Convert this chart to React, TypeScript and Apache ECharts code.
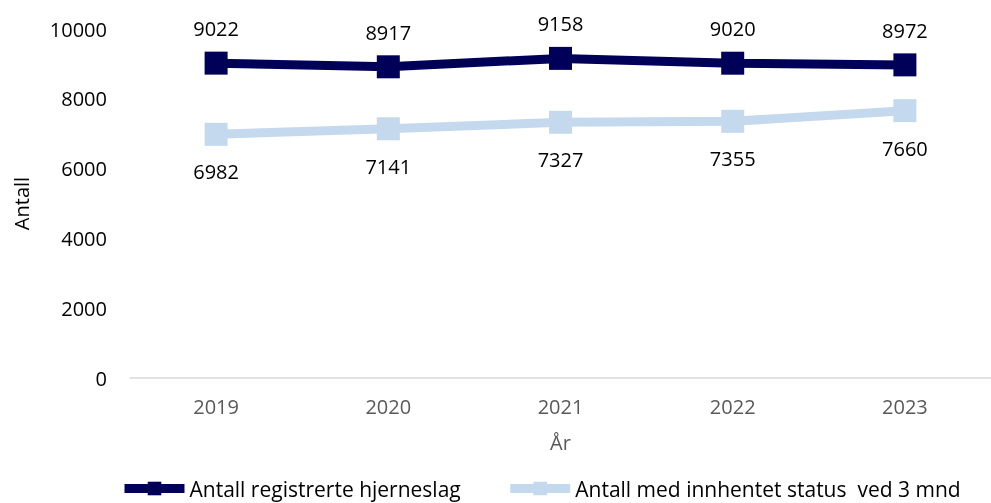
import React, { useEffect, useRef } from "react";
import * as echarts from "echarts";

const years = ["2019", "2020", "2021", "2022", "2023"];
const registrerte = [9022, 8917, 9158, 9020, 8972];
const innhentet = [6982, 7141, 7327, 7355, 7660];
const yTicks = { min: 0, max: 10000, interval: 2000 };

const FONT = "'Open Sans', sans-serif";

export default function App() {
  const ref = useRef<HTMLDivElement>(null);
  useEffect(() => {
    if (!ref.current) return;
    const chart = echarts.init(ref.current, undefined, { renderer: "svg" });
    chart.setOption({
      animation: false,
      textStyle: { fontFamily: FONT },
      grid: { left: 130, top: 29, bottom: 125, right: -6 },
      legend: {
        top: 473,
        left: 115,
        padding: 5,
        itemWidth: 60,
        itemHeight: 17,
        itemGap: 45,
        textStyle: { fontFamily: FONT, fontSize: 21, color: "#000" },
        lineStyle: { width: 9 },
        data: ["Antall registrerte hjerneslag", "Antall med innhentet status  ved 3 mnd"],
      },
      xAxis: {
        type: "category",
        data: years,
        boundaryGap: true,
        name: "År",
        nameLocation: "middle",
        nameGap: 54,
        nameTextStyle: { fontFamily: FONT, fontSize: 20, color: "#595959" },
        axisLine: { lineStyle: { color: "#d9d9d9", width: 1.5 } },
        axisTick: { show: false },
        axisLabel: { fontFamily: FONT, fontSize: 20, color: "#595959", margin: 18 },
      },
      yAxis: {
        type: "value",
        min: yTicks.min,
        max: yTicks.max,
        interval: yTicks.interval,
        name: "Antall",
        nameLocation: "middle",
        nameGap: 99,
        nameTextStyle: { fontFamily: FONT, fontSize: 20, color: "#000" },
        axisLine: { show: false },
        axisTick: { show: false },
        splitLine: { show: false },
        axisLabel: {
          fontFamily: FONT,
          fontSize: 20,
          color: "#000",
          margin: 23,
          formatter: (v: number) => String(v),
        },
      },
      series: [
        {
          name: "Antall registrerte hjerneslag",
          type: "line",
          data: registrerte,
          symbol: "rect",
          symbolSize: 23,
          lineStyle: { color: "#000058", width: 9 },
          itemStyle: { color: "#000058" },
          label: { show: true, position: "top", distance: 13, fontFamily: FONT, fontSize: 20, color: "#000" },
        },
        {
          name: "Antall med innhentet status  ved 3 mnd",
          type: "line",
          data: innhentet,
          symbol: "rect",
          symbolSize: 23,
          lineStyle: { color: "#C5D9EE", width: 9 },
          itemStyle: { color: "#C5D9EE" },
          label: { show: true, position: "bottom", distance: 16, fontFamily: FONT, fontSize: 20, color: "#000" },
        },
      ],
    });
    return () => chart.dispose();
  }, []);
  return (
    <div
      ref={ref}
      style={{ position: "fixed", left: 0, top: 0, width: 991, height: 503 }}
    />
  );
}
